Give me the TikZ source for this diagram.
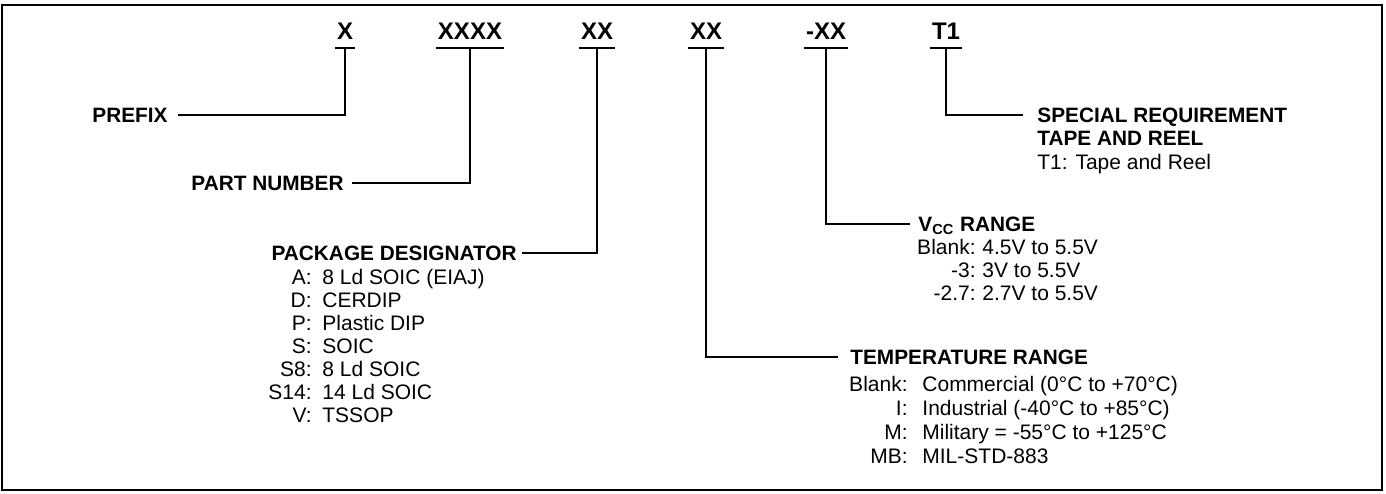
\documentclass[tikz,border=0pt]{standalone}
\usepackage{fontspec}
\setmainfont{Liberation Sans}
\usepackage{tikz}

\begin{document}
\begin{tikzpicture}[x=0.5pt, y=-0.5pt,
    wire/.style={line width=1pt},
    code/.style={font=\bfseries\fontsize{12}{14}\selectfont, anchor=base, inner sep=0pt},
    head/.style={font=\bfseries\fontsize{10.4}{12}\selectfont, inner sep=0pt, text height=7.45pt, text depth=0pt},
    item/.style={font=\fontsize{10.5}{12}\selectfont, inner sep=0pt, text height=7.5pt, text depth=0pt}]
    \useasboundingbox (0, 0) rectangle (1386, 493);
    \draw[line width=1.1pt] (2, 5) rectangle (1382, 490);

    \node[code] (cx) at (345, 39.5) {X};
    \node[code] (cxxxx) at (470, 39.5) {XXXX};
    \node[code] (cpkg) at (597, 39.5) {XX};
    \node[code] (ctemp) at (706, 39.5) {XX};
    \node[code] (cvcc) at (826, 39.5) {-XX};
    \node[code] (ct1) at (946, 39.5) {T1};
    \foreach \n in {cx, cxxxx, cpkg, ctemp, cvcc, ct1}
        \draw[wire] ([xshift=-1pt, yshift=-4pt]\n.base west) -- ([xshift=1pt, yshift=-4pt]\n.base east);

    \node[head, anchor=east] (prefix) at (168, 115) {PREFIX};
    \node[head, anchor=east] (partno) at (344, 183) {PART NUMBER};
    \node[head, anchor=east] (pkg) at (517, 253) {PACKAGE DESIGNATOR};
    \node[head, anchor=west] (special) at (1037, 115) {SPECIAL REQUIREMENT};
    \node[head, anchor=west] (tape) at (1037, 138) {TAPE AND REEL};
    \node[item, anchor=west] (tapenote) at (1037, 162) {T1: Tape and Reel};
    \node[head, anchor=west] (vcc) at (918, 224) {V\textsubscript{CC} RANGE};
    \node[head, anchor=west] (temp) at (850, 357) {TEMPERATURE RANGE};

    \draw[wire] ([yshift=-4pt]cx.base) |- ([xshift=5pt]prefix.east);
    \draw[wire] ([yshift=-4pt]cxxxx.base) |- ([xshift=4pt]partno.east);
    \draw[wire] ([yshift=-4pt]cpkg.base) |- ([xshift=2.5pt]pkg.east);
    \draw[wire] ([yshift=-4pt]ctemp.base) |- ([xshift=-6pt]temp.west);
    \draw[wire] ([yshift=-4pt]cvcc.base) |- ([xshift=-4pt]vcc.west);
    \draw[wire] ([yshift=-4pt]ct1.base) |- ([xshift=-7pt]special.west);

    \foreach \k/\v [count=\i] in {A/8 Ld SOIC (EIAJ), D/CERDIP, P/Plastic DIP, S/SOIC, S8/8 Ld SOIC, S14/14 Ld SOIC, V/TSSOP} {
        \node[item, anchor=east] (pkgk\i) at (312, 254+23*\i) {\k:};
        \node[item, anchor=west] (pkgv\i) at (322, 254+23*\i) {\v};
    }
    \foreach \k/\v [count=\i] in {Blank/4.5V to 5.5V, -3/3V to 5.5V, -2.7/2.7V to 5.5V} {
        \node[item, anchor=east] (vcck\i) at (976, 224+23*\i) {\k:};
        \node[item, anchor=west] (vccv\i) at (982, 224+23*\i) {\v};
    }
    \foreach \k/\v [count=\i] in {Blank/Commercial (0°C to +70°C), I/Industrial (-40°C to +85°C), M/Military = -55°C to +125°C, MB/MIL-STD-883} {
        \node[item, anchor=east] (tempk\i) at (908, 360+24*\i) {\k:};
        \node[item, anchor=west] (tempv\i) at (922, 360+24*\i) {\v};
    }
\end{tikzpicture}
\end{document}
